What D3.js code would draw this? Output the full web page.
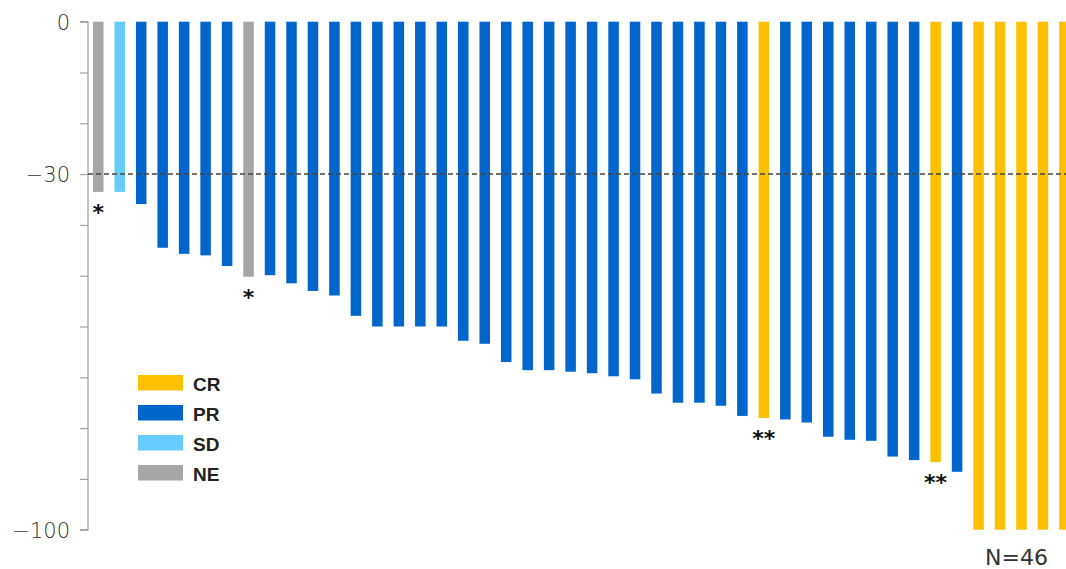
<!DOCTYPE html>
<html>
<head>
<meta charset="utf-8">
<script src="https://cdn.jsdelivr.net/npm/d3@7"></script>
<style>
  html, body { margin: 0; padding: 0; background: #fff; }
  svg { display: block; }
</style>
</head>
<body>
<script>
// best percent change from baseline, one bar per patient (sorted)
const responses = [
  -33.5, -33.5, -35.9, -44.5, -45.7, -46.0, -48.1, -50.2, -49.9, -51.5,
  -53.0, -53.9, -57.9, -60.0, -60.0, -60.0, -60.0, -62.8, -63.4, -67.0,
  -68.6, -68.6, -68.9, -69.2, -69.8, -70.4, -73.2, -75.0, -75.0, -75.6,
  -77.6, -78.0, -78.3, -78.9, -81.7, -82.3, -82.5, -85.6, -86.3, -86.7,
  -88.6, -100, -100, -100, -100, -100
];
const bestResponse = [
  "NE", "SD", "PR", "PR", "PR", "PR", "PR", "NE", "PR", "PR",
  "PR", "PR", "PR", "PR", "PR", "PR", "PR", "PR", "PR", "PR",
  "PR", "PR", "PR", "PR", "PR", "PR", "PR", "PR", "PR", "PR",
  "PR", "CR", "PR", "PR", "PR", "PR", "PR", "PR", "PR", "CR",
  "PR", "CR", "CR", "CR", "CR", "CR"
];
// footnote marks under some bars (index -> mark)
const marks = [
  { index: 0, text: "*" },
  { index: 7, text: "*" },
  { index: 31, text: "**" },
  { index: 39, text: "**" }
];
const legendKeys = ["CR", "PR", "SD", "NE"];
const legendColors = ["#FFC000", "#0066CC", "#66CCFF", "#A6A6A6"];
const yTicks = [0, -10, -20, -30, -40, -50, -60, -70, -80, -90, -100];
const yTickLabels = [0, -30, -100];
const threshold = -30;
const sampleLabel = "N=46";

const width = 1066;
const height = 569;

const svg = d3.select("body").append("svg")
  .attr("width", width)
  .attr("height", height);

const color = d3.scaleOrdinal().domain(legendKeys).range(legendColors);

const x = d3.scaleBand()
  .domain(d3.range(responses.length))
  .range([88, 1074.7])
  .paddingInner(0.51)
  .paddingOuter(0.233);

const y = d3.scaleLinear()
  .domain([0, -100])
  .range([21.7, 529.7]);

// y axis
const yAxis = d3.axisLeft(y)
  .tickValues(yTicks)
  .tickSize(8)
  .tickPadding(10)
  .tickFormat((d) => yTickLabels.includes(d) ? d3.format("")(d).replace("-", "\u2212") : "");

const axisG = svg.append("g")
  .attr("transform", "translate(88,0)")
  .call(yAxis);
axisG.select(".domain").attr("stroke", "#a0a0a0").attr("stroke-width", 1.3)
  .attr("d", "M0," + y(0) + "V" + y(-100) + "H-8M0," + y(0) + "H-8");
axisG.selectAll(".tick line").attr("stroke", "#a0a0a0").attr("stroke-width", 1.2);
axisG.selectAll(".tick text")
  .attr("fill", "#333")
  .attr("font-family", "'DejaVu Sans', sans-serif")
  .attr("font-weight", 300)
  .attr("font-size", 21)
  .attr("dy", "0.36em");

// bars
svg.append("g").selectAll("rect")
  .data(responses)
  .enter()
  .append("rect")
  .attr("x", (d, i) => x(i))
  .attr("y", y(0))
  .attr("width", x.bandwidth())
  .attr("height", (d) => y(d) - y(0))
  .attr("fill", (d, i) => color(bestResponse[i]));

// -30% threshold
svg.append("line")
  .attr("x1", 88)
  .attr("x2", width)
  .attr("y1", y(threshold))
  .attr("y2", y(threshold))
  .attr("stroke", "#444")
  .attr("stroke-width", 1.5)
  .attr("stroke-dasharray", "5,3");

// footnote asterisks
svg.append("g").selectAll("text")
  .data(marks)
  .enter()
  .append("text")
  .attr("x", (d) => x(d.index) + x.bandwidth() / 2)
  .attr("y", (d) => y(responses[d.index]) + 28)
  .attr("text-anchor", "middle")
  .attr("font-family", "'DejaVu Sans', sans-serif")
  .attr("font-weight", "bold")
  .attr("font-size", 22)
  .attr("fill", "#111")
  .text((d) => d.text);

// N label under the last bars
svg.append("text")
  .attr("x", x(43) + x.bandwidth() / 2 - 5)
  .attr("y", 565)
  .attr("text-anchor", "middle")
  .attr("font-family", "'DejaVu Sans', sans-serif")
  .attr("font-size", 22)
  .attr("fill", "#333")
  .text(sampleLabel);

// legend
const legend = svg.append("g").attr("transform", "translate(138,375)");
const rows = legend.selectAll("g")
  .data(legendKeys)
  .enter()
  .append("g")
  .attr("transform", (d, i) => "translate(0," + (i * 30) + ")");
rows.append("rect")
  .attr("width", 45)
  .attr("height", 15.5)
  .attr("fill", (d) => color(d));
rows.append("text")
  .attr("x", 55)
  .attr("y", 16)
  .attr("font-family", "'Liberation Sans', Arial, sans-serif")
  .attr("font-weight", "bold")
  .attr("font-size", 19)
  .attr("fill", "#222")
  .text((d) => d);
</script>
</body>
</html>
